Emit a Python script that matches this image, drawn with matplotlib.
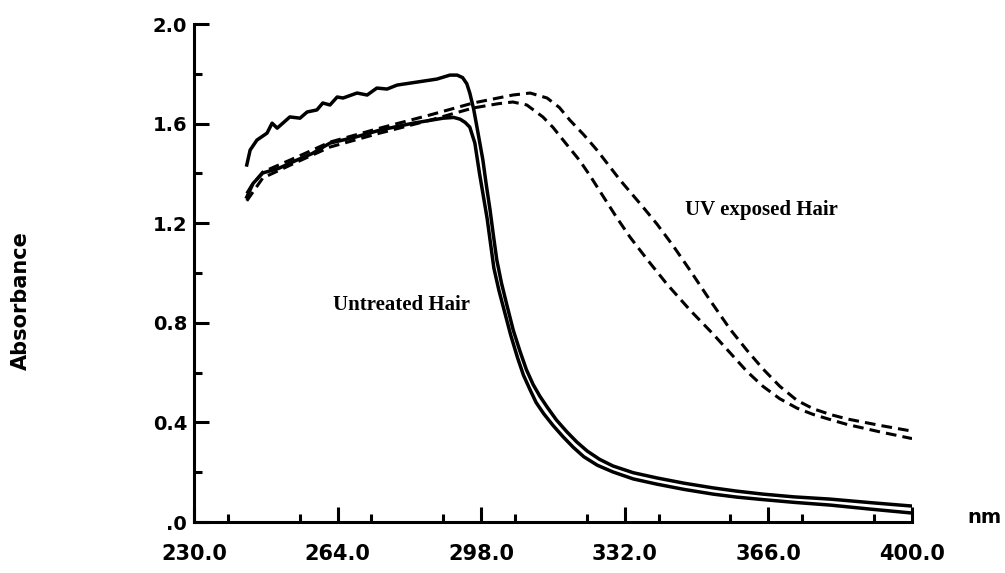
import numpy as np
import matplotlib
matplotlib.use('Agg')
import matplotlib.pyplot as plt
from matplotlib.ticker import MultipleLocator

# untreated hair, two solid spectra (nm, absorbance)
untr1_x = [242.5, 243.3, 244.9, 247.3, 248.5, 249.7, 252.7, 255.1, 256.8, 259.1, 260.5,
           262.2, 263.9, 265.3, 268.6, 271.0, 273.3, 275.7, 278.1, 282.8, 287.5, 290.6,
           292.3, 293.6, 294.6, 295.3, 296.2, 297.0, 297.7, 298.4, 299.2, 300.1, 300.9,
           301.7, 302.8, 304.1, 305.6, 307.2, 308.7, 310.3, 311.9, 313.6, 315.8, 318.3,
           320.6, 323.1, 326.0, 329.2, 334.0, 339.6, 346.0, 352.9, 358.5, 364.7, 372.0,
           380.6, 390.0, 400.0]
untr1_y = [1.434, 1.494, 1.534, 1.562, 1.602, 1.582, 1.627, 1.622, 1.647, 1.655, 1.683,
           1.675, 1.707, 1.703, 1.723, 1.715, 1.743, 1.739, 1.755, 1.767, 1.779, 1.795,
           1.795, 1.785, 1.760, 1.723, 1.660, 1.586, 1.520, 1.454, 1.355, 1.253, 1.150,
           1.052, 0.960, 0.870, 0.770, 0.685, 0.612, 0.552, 0.505, 0.462, 0.410, 0.362,
           0.322, 0.285, 0.252, 0.225, 0.198, 0.177, 0.156, 0.137, 0.124, 0.112, 0.101,
           0.092, 0.078, 0.064]

untr2_x = [242.5, 244.0, 246.3, 250.0, 254.4, 258.0, 262.2, 268.0, 274.0, 281.9, 289.0,
           291.5, 293.0, 294.2, 295.3, 296.5, 297.6, 298.5, 299.4, 300.2, 301.0, 302.2,
           303.6, 305.0, 306.6, 308.0, 309.6, 311.0, 312.8, 315.0, 317.4, 319.8, 322.3,
           325.5, 329.2, 334.0, 339.6, 346.0, 352.9, 358.5, 364.7, 372.0, 380.6, 390.0,
           400.0]
untr2_y = [1.305, 1.36, 1.402, 1.42, 1.454, 1.48, 1.522, 1.545, 1.574, 1.602, 1.622,
           1.625, 1.618, 1.605, 1.586, 1.522, 1.40, 1.31, 1.22, 1.12, 1.02, 0.93,
           0.84, 0.75, 0.66, 0.59, 0.53, 0.48, 0.435, 0.388, 0.342, 0.300, 0.262,
           0.228, 0.201, 0.173, 0.152, 0.131, 0.112, 0.100, 0.090, 0.079, 0.068, 0.052,
           0.036]

# UV exposed hair, two dashed spectra
uv1_x = [242.5, 243.7, 246.3, 254.4, 262.2, 274.0, 285.9, 296.1, 305.5, 309.6, 313.6,
         316.5, 319.0, 322.3, 325.4, 330.9, 336.3, 339.6, 343.5, 347.4, 352.0, 356.9,
         360.9, 364.7, 368.7, 372.8, 376.6, 380.6, 384.6, 392.4, 400.0]
uv1_y = [1.32, 1.353, 1.406, 1.466, 1.526, 1.582, 1.635, 1.683, 1.715, 1.723, 1.703,
         1.665, 1.614, 1.555, 1.494, 1.373, 1.265, 1.197, 1.108, 1.012, 0.895, 0.775,
         0.69, 0.615, 0.545, 0.488, 0.455, 0.432, 0.414, 0.388, 0.365]

uv2_x = [242.5, 246.3, 254.4, 262.2, 274.0, 285.9, 296.1, 302.0, 305.5, 308.8, 312.6,
         315.0, 317.4, 321.4, 323.8, 326.8, 330.0, 333.2, 337.5, 342.0, 347.5, 352.9,
         356.9, 360.9, 364.7, 368.7, 372.8, 376.6, 381.3, 384.6, 392.4, 400.0]
uv2_y = [1.29, 1.382, 1.446, 1.506, 1.562, 1.614, 1.663, 1.680, 1.687, 1.675, 1.627,
         1.585, 1.534, 1.45, 1.39, 1.31, 1.225, 1.145, 1.05, 0.955, 0.85, 0.755,
         0.68, 0.605, 0.545, 0.495, 0.457, 0.432, 0.408, 0.392, 0.362, 0.335]

xtick_vals = [230, 264, 298, 332, 366, 400]
xtick_labels = ['230.0', '264.0', '298.0', '332.0', '366.0', '400.0']
ytick_vals = [0.0, 0.4, 0.8, 1.2, 1.6, 2.0]
ytick_labels = ['.0', '0.4', '0.8', '1.2', '1.6', '2.0']

fig = plt.figure(figsize=(10.05, 5.73), dpi=100)
ax = fig.add_axes([0.193, 0.089, 0.7145, 0.869])

lw = 2.5
ax.plot(untr1_x, untr1_y, color='black', lw=lw, solid_joinstyle='round')
ax.plot(untr2_x, untr2_y, color='black', lw=lw, solid_joinstyle='round')
ax.plot(uv1_x, uv1_y, color='black', lw=2.2, dashes=(3.5, 2.0))
ax.plot(uv2_x, uv2_y, color='black', lw=2.2, dashes=(3.5, 2.0))

ax.set_xlim(230, 400)
ax.set_ylim(0, 2.0)

ax.spines['top'].set_visible(False)
ax.spines['right'].set_visible(False)
ax.spines['left'].set_linewidth(2.2)
ax.spines['bottom'].set_linewidth(2.2)

ax.set_xticks(xtick_vals)
ax.set_xticklabels(xtick_labels)
ax.set_yticks(ytick_vals)
ax.set_yticklabels(ytick_labels)
ax.xaxis.set_minor_locator(MultipleLocator(17))
ax.yaxis.set_minor_locator(MultipleLocator(0.2))

ax.tick_params(which='major', direction='in', length=11, width=2.2)
ax.tick_params(which='minor', direction='in', length=6, width=2.2)
ax.tick_params(axis='x', which='major', pad=16)
ax.tick_params(axis='y', which='major', pad=5)

for lab in ax.get_xticklabels():
    lab.set_fontfamily('DejaVu Sans')
    lab.set_fontweight('bold')
    lab.set_fontsize(15)
for lab in ax.get_yticklabels():
    lab.set_fontfamily('DejaVu Sans')
    lab.set_fontweight('bold')
    lab.set_fontsize(14)

ax.text(262.9, 0.851, 'Untreated Hair', family='Liberation Serif', weight='bold',
        fontsize=15, ha='left', va='baseline')
ax.text(346.3, 1.233, 'UV exposed Hair', family='Liberation Serif', weight='bold',
        fontsize=15, ha='left', va='baseline')

fig.text(0.021, 0.475, 'Absorbance', rotation=90, ha='center', va='center',
         fontsize=15, fontweight='bold', family='DejaVu Sans')
fig.text(0.963, 0.097, 'nm', ha='left', va='center',
         fontsize=14, fontweight='bold', family='DejaVu Sans')

fig.savefig('out.png', dpi=100)
